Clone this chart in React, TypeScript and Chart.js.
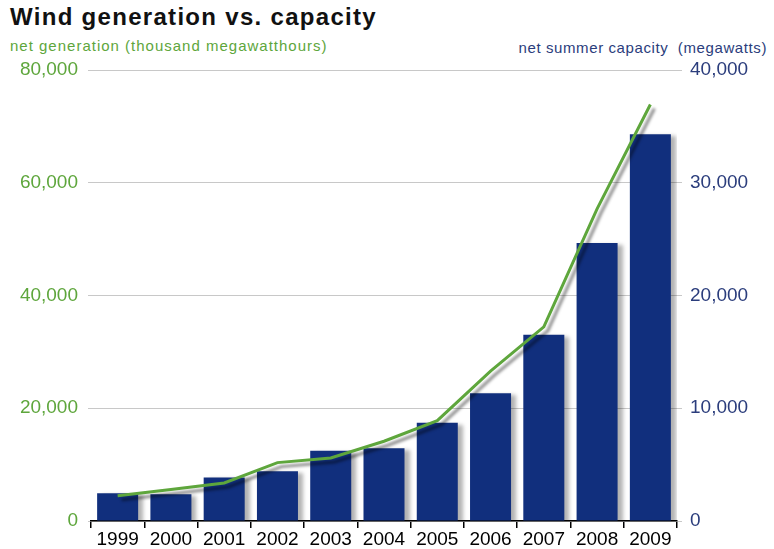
import React, { useEffect, useRef } from "react";
import { Chart, registerables } from "chart.js";

Chart.register(...registerables);

const years = ["1999", "2000", "2001", "2002", "2003", "2004", "2005", "2006", "2007", "2008", "2009"];
const capacityMW = [2472, 2377, 3864, 4417, 6222, 6456, 8706, 11329, 16515, 24651, 34296];
const generationTMWh = [4488, 5593, 6737, 10354, 11187, 14144, 17811, 26589, 34450, 55363, 73886];
const leftTicks = [0, 20000, 40000, 60000, 80000];
const rightTicks = [0, 10000, 20000, 30000, 40000];

const GREEN = "#5ea63c";
const NAVY = "#112f7d";
const FONT = "'Liberation Sans', Arial, Helvetica, sans-serif";

const shadowPlugin = {
  id: "shadowPlugin",
  beforeDatasetDraw(chart: any, args: any) {
    const ctx = chart.ctx;
    ctx.save();
    if (args.meta.type === "line") {
      ctx.shadowColor = "rgba(0,0,0,0.45)";
      ctx.shadowOffsetX = 4;
      ctx.shadowOffsetY = 4;
      ctx.shadowBlur = 3;
    } else {
      ctx.shadowColor = "rgba(0,0,0,0.3)";
      ctx.shadowOffsetX = 5;
      ctx.shadowOffsetY = 2;
      ctx.shadowBlur = 4;
    }
  },
  afterDatasetDraw(chart: any) {
    chart.ctx.restore();
  },
};

export default function App() {
  const ref = useRef<HTMLCanvasElement | null>(null);
  useEffect(() => {
    if (!ref.current) return;
    const chart = new Chart(ref.current, {
      type: "bar",
      data: {
        labels: years,
        datasets: [
          {
            type: "line",
            label: "net generation",
            data: generationTMWh,
            yAxisID: "yL",
            borderColor: GREEN,
            borderWidth: 3,
            pointRadius: 0,
            tension: 0,
            order: 0,
          } as any,
          {
            type: "bar",
            label: "net summer capacity",
            data: capacityMW,
            yAxisID: "yR",
            backgroundColor: NAVY,
            borderWidth: 0,
            categoryPercentage: 1,
            barPercentage: 0.77,
            order: 1,
          } as any,
        ],
      },
      options: {
        animation: false,
        responsive: false,
        maintainAspectRatio: false,
        layout: { padding: { top: 70, bottom: 0, left: 0, right: 0 } },
        plugins: { legend: { display: false }, tooltip: { enabled: false }, title: { display: false } },
        scales: {
          x: {
            offset: true,
            grid: { display: true, offset: true, drawOnChartArea: false, color: "#000", tickLength: 7, lineWidth: 1.5 },
            border: { display: true, color: "#000", width: 1.5 },
            ticks: { color: "#000", font: { family: FONT, size: 19 }, padding: 0, maxRotation: 0, autoSkip: false },
            afterFit(scale: any) {
              scale.height = 28;
            },
          },
          yL: {
            position: "left",
            min: 0,
            max: 80000,
            afterBuildTicks(scale: any) {
              scale.ticks = leftTicks.map((v) => ({ value: v }));
            },
            grid: { color: "#c8c8c8", lineWidth: 1, drawTicks: true, tickLength: 3 },
            border: { display: false },
            ticks: {
              color: GREEN,
              font: { family: FONT, size: 19 },
              padding: 10,
              callback: (v: any) => Number(v).toLocaleString("en-US"),
            },
            afterFit(scale: any) {
              scale.width = 91;
            },
          },
          yR: {
            position: "right",
            min: 0,
            max: 40000,
            afterBuildTicks(scale: any) {
              scale.ticks = rightTicks.map((v) => ({ value: v }));
            },
            grid: { drawOnChartArea: false, drawTicks: true, tickLength: 5, color: "#c8c8c8" },
            border: { display: false },
            ticks: {
              color: "#2b3d7c",
              font: { family: FONT, size: 19 },
              padding: 8,
              callback: (v: any) => Number(v).toLocaleString("en-US"),
            },
            afterFit(scale: any) {
              scale.width = 97;
            },
          },
        },
      },
      plugins: [shadowPlugin],
    });
    return () => chart.destroy();
  }, []);

  return (
    <div style={{ position: "fixed", left: 0, top: 0, width: 774, height: 549, background: "#fff", fontFamily: FONT }}>
      <div style={{ position: "absolute", left: 10, top: 3, fontSize: 24, fontWeight: "bold", color: "#111", letterSpacing: 1.3 }}>
        Wind generation vs. capacity
      </div>
      <div style={{ position: "absolute", left: 10, top: 37, fontSize: 15, color: GREEN, letterSpacing: 1 }}>
        net generation (thousand megawatthours)
      </div>
      <div style={{ position: "absolute", right: 7, top: 39, fontSize: 15, color: "#2b3d7c", letterSpacing: 0.6 }}>
        net summer capacity&nbsp; (megawatts)
      </div>
      <canvas ref={ref} width={774} height={549} style={{ position: "absolute", left: 0, top: 0 }} />
    </div>
  );
}
